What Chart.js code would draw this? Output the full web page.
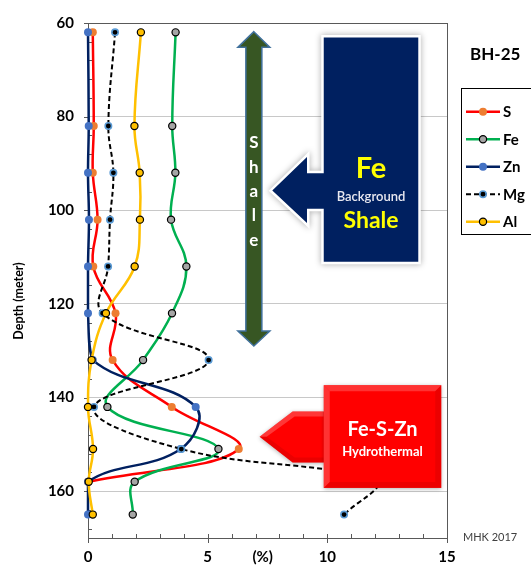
<!DOCTYPE html>
<html><head><meta charset="utf-8">
<script src="https://cdn.jsdelivr.net/npm/chart.js@4.4.0/dist/chart.umd.min.js"></script>
<style>html,body{margin:0;padding:0;background:#fff;overflow:hidden}#wrap{width:531px;height:565px}</style>
</head><body><div id="wrap"><canvas id="c" width="531" height="565"></canvas></div>
<script>
// ---- data (depth in metres, values in %) ----
const depths = [62, 82, 92, 102, 112, 122, 132, 142, 151, 158, 165];
const depthsS = [62, 82, 92, 102, 112, 122, 132, 142, 151, 158];
const sValues  = [0.20, 0.24, 0.20, 0.40, 0.22, 1.15, 1.03, 3.50, 6.30, 0.00];
const feValues = [3.66, 3.52, 3.65, 3.47, 4.11, 3.51, 2.30, 0.81, 5.45, 1.95, 1.87];
const znValues = [0.00, 0.03, 0.00, 0.04, 0.00, 0.00, 0.20, 4.50, 3.87, 0.00, 0.00];
const mgValues = [1.13, 0.85, 1.06, 0.92, 0.84, 0.61, 5.04, 0.25, 3.90, 12.0, 10.7];
const alValues = [2.21, 1.94, 2.16, 2.17, 1.95, 0.75, 0.15, 0.00, 0.21, 0.03, 0.20];
const seriesNames = ['S', 'Fe', 'Zn', 'Mg', 'Al'];
const xTicks = [0, 5, 10, 15];
const yTicks = [60, 80, 100, 120, 140, 160];
const boreholeName = 'BH-25';

const FONT = 'Lato';
Chart.defaults.font.family = FONT;

function pts(d, v) { return v.map((x, i) => ({ x: x, y: d[i] })); }

const styles = [
  { line: '#ff0000', fill: '#ed7d31', border: '#ed7d31', bw: 0, r: 4, w: 2.5, dash: [] },
  { line: '#00b050', fill: '#a5a5a5', border: '#000000', bw: 1.2, r: 3.6, w: 2.5, dash: [] },
  { line: '#002060', fill: '#4472c4', border: '#4472c4', bw: 0, r: 4, w: 2.5, dash: [] },
  { line: '#000000', fill: '#000000', border: '#5b9bd5', bw: 1.6, r: 3.2, w: 2, dash: [5, 3] },
  { line: '#ffc000', fill: '#ffc000', border: '#000000', bw: 1.2, r: 3.6, w: 2.5, dash: [] }
];
const seriesData = [pts(depthsS, sValues), pts(depths, feValues), pts(depths, znValues), pts(depths, mgValues), pts(depths, alValues)];

const datasets = seriesNames.map((n, i) => ({
  label: n,
  data: seriesData[i],
  borderColor: styles[i].line,
  borderWidth: styles[i].w,
  borderDash: styles[i].dash,
  pointBackgroundColor: styles[i].fill,
  pointBorderColor: styles[i].border,
  pointBorderWidth: styles[i].bw,
  pointRadius: styles[i].r,
  tension: 0.4,
  fill: false,
  clip: false,
  order: 4 - i
}));

const deco = {
  id: 'deco',
  beforeDatasetsDraw(chart) {
    const c = chart.ctx, a = chart.chartArea;
    const xs = chart.scales.x, ys = chart.scales.y;
    const X = v => xs.getPixelForValue(v), Y = v => ys.getPixelForValue(v);
    c.save();
    // frame
    c.strokeStyle = '#595959'; c.lineWidth = 1;
    c.strokeRect(Math.round(a.left) + 0.5, Math.round(a.top) + 0.5, Math.round(a.right - a.left), Math.round(a.bottom - a.top));
    // minor + major ticks
    c.beginPath();
    for (let v = 1; v < 15; v++) { if (v % 5 === 0) continue; const px = Math.round(X(v)) + 0.5; c.moveTo(px, a.bottom); c.lineTo(px, a.bottom - 4); }
    for (let d = 64; d < 170; d += 4) { if ((d - 60) % 20 === 0) continue; const py = Math.round(Y(d)) + 0.5; c.moveTo(a.left, py); c.lineTo(a.left + 4, py); }
    xTicks.forEach(v => { const px = Math.round(X(v)) + 0.5; c.moveTo(px, a.bottom - 4); c.lineTo(px, a.bottom + 5); });
    yTicks.forEach(d => { const py = Math.round(Y(d)) + 0.5; c.moveTo(a.left - 4, py); c.lineTo(a.left, py); });
    c.stroke();

    // green double arrow
    const cx = X(6.93), yT = Y(61.85), yHT = Y(65.2), yHB = Y(125.8), yB = Y(129.0), sw = 8, hw = 16;
    c.beginPath();
    c.moveTo(cx, yT); c.lineTo(cx + hw, yHT); c.lineTo(cx + sw, yHT); c.lineTo(cx + sw, yHB); c.lineTo(cx + hw, yHB);
    c.lineTo(cx, yB); c.lineTo(cx - hw, yHB); c.lineTo(cx - sw, yHB); c.lineTo(cx - sw, yHT); c.lineTo(cx - hw, yHT); c.closePath();
    c.fillStyle = '#375623'; c.fill();
    c.strokeStyle = '#41719c'; c.lineWidth = 1.5; c.stroke();
    c.fillStyle = '#ffffff'; c.font = 'bold 17px ' + FONT; c.textAlign = 'center'; c.textBaseline = 'middle';
    'Shale'.split('').forEach((ch, i) => c.fillText(ch, cx, Y(85.6 + i * 5.2)));

    // navy box with left arrow
    const bl = X(9.85), br = X(13.8), bt = Y(63.1), bb = Y(111.0);
    const st = Y(92.1), sb = Y(99.7), hb = X(9.15), ht = Y(88.6), hbt = Y(102.7), tx = X(7.7), ty = Y(95.8);
    c.beginPath();
    c.moveTo(bl, bt); c.lineTo(br, bt); c.lineTo(br, bb); c.lineTo(bl, bb); c.lineTo(bl, sb); c.lineTo(hb, sb);
    c.lineTo(hb, hbt); c.lineTo(tx, ty); c.lineTo(hb, ht); c.lineTo(hb, st); c.lineTo(bl, st); c.closePath();
    c.save();
    c.shadowColor = 'rgba(0,0,0,0.35)'; c.shadowBlur = 6;
    c.strokeStyle = '#ffffff'; c.lineWidth = 5; c.lineJoin = 'miter'; c.stroke();
    c.restore();
    c.fillStyle = '#002060'; c.fill();
    const ncx = (bl + br) / 2;
    c.fillStyle = '#ffff00'; c.font = 'bold 29px ' + FONT; c.fillText('Fe', ncx, Y(91.1));
    c.fillStyle = '#e8e8f0'; c.font = '600 13px ' + FONT; c.fillText('Background', ncx, Y(97.1));
    c.fillStyle = '#ffff00'; c.font = 'bold 23px ' + FONT; c.fillText('Shale', ncx, Y(102.2));
    c.restore();
  },
  afterDatasetsDraw(chart) {
    const c = chart.ctx;
    const xs = chart.scales.x, ys = chart.scales.y;
    const X = v => xs.getPixelForValue(v), Y = v => ys.getPixelForValue(v);
    c.save();
    // red arrow
    const tx = X(7.17), ty = Y(148.4), hb = X(8.55), ht = Y(143.0), hbb = Y(153.9), bl = X(9.85);
    c.save(); c.shadowColor = 'rgba(0,0,0,0.3)'; c.shadowBlur = 4; c.shadowOffsetY = 1;
    c.beginPath(); c.moveTo(tx, ty); c.lineTo(hb, ht); c.lineTo(bl + 2, ht); c.lineTo(bl + 2, hbb); c.lineTo(hb, hbb); c.closePath();
    c.fillStyle = '#ff0000'; c.fill(); c.restore();
    c.fillStyle = 'rgba(255,120,120,0.45)';
    c.beginPath(); c.moveTo(tx, ty); c.lineTo(hb, ht); c.lineTo(bl, ht); c.lineTo(bl, ht + 5); c.lineTo(hb + 2, ht + 5); c.lineTo(tx + 7, ty); c.closePath(); c.fill();
    c.fillStyle = 'rgba(190,0,0,0.3)';
    c.beginPath(); c.moveTo(tx, ty); c.lineTo(hb, hbb); c.lineTo(bl, hbb); c.lineTo(bl, hbb - 5); c.lineTo(hb + 2, hbb - 5); c.lineTo(tx + 7, ty); c.closePath(); c.fill();
    // red box
    const rl = X(9.85), rr = X(14.76), rt = Y(137.35), rb = Y(159.3);
    c.save(); c.shadowColor = 'rgba(0,0,0,0.3)'; c.shadowBlur = 4; c.shadowOffsetY = 1;
    c.fillStyle = '#ff0000'; c.fillRect(rl, rt, rr - rl, rb - rt); c.restore();
    const bv = 6;
    c.fillStyle = 'rgba(255,110,110,0.45)';
    c.beginPath(); c.moveTo(rl, rt); c.lineTo(rr, rt); c.lineTo(rr - bv, rt + bv); c.lineTo(rl + bv, rt + bv); c.closePath(); c.fill();
    c.beginPath(); c.moveTo(rl, rt); c.lineTo(rl + bv, rt + bv); c.lineTo(rl + bv, rb - bv); c.lineTo(rl, rb); c.closePath(); c.fill();
    c.fillStyle = 'rgba(200,0,0,0.35)';
    c.beginPath(); c.moveTo(rl, rb); c.lineTo(rr, rb); c.lineTo(rr - bv, rb - bv); c.lineTo(rl + bv, rb - bv); c.closePath(); c.fill();
    c.beginPath(); c.moveTo(rr, rt); c.lineTo(rr, rb); c.lineTo(rr - bv, rb - bv); c.lineTo(rr - bv, rt + bv); c.closePath(); c.fill();
    const rcx = (rl + rr) / 2;
    c.fillStyle = '#ffffff'; c.textAlign = 'center'; c.textBaseline = 'middle';
    c.font = 'bold 20px ' + FONT; c.fillText('Fe-S-Zn', rcx, Y(146.9));
    c.font = 'bold 13px ' + FONT; c.fillText('Hydrothermal', rcx, Y(151.5));
    c.restore();
  },
  afterDraw(chart) {
    const c = chart.ctx;
    const xs = chart.scales.x;
    c.save();
    c.fillStyle = '#000'; c.font = 'bold 17px ' + FONT; c.textAlign = 'left'; c.textBaseline = 'middle';
    c.fillText(boreholeName, 470, 55);
    c.strokeStyle = '#000'; c.lineWidth = 1; c.strokeRect(461.5, 88.5, 72, 146);
    seriesNames.forEach((n, i) => {
      const y = 111.7 + i * 27.5, s = styles[i];
      c.beginPath(); c.setLineDash(s.dash); c.strokeStyle = s.line; c.lineWidth = s.w;
      c.moveTo(466, y); c.lineTo(500, y); c.stroke(); c.setLineDash([]);
      c.beginPath(); c.arc(483, y, s.r, 0, Math.PI * 2); c.fillStyle = s.fill; c.fill();
      if (s.bw) { c.lineWidth = s.bw; c.strokeStyle = s.border; c.stroke(); }
      c.fillStyle = '#000'; c.font = 'bold 15px ' + FONT; c.textAlign = 'left'; c.textBaseline = 'middle';
      c.fillText(n, 503, y + 0.5);
    });
    c.save(); c.translate(19, 301); c.rotate(-Math.PI / 2);
    c.font = 'bold 12.5px ' + FONT; c.textAlign = 'center'; c.textBaseline = 'middle'; c.fillStyle = '#000';
    c.fillText('Depth (meter)', 0, 0); c.restore();
    c.font = 'bold 15px ' + FONT; c.textAlign = 'center'; c.textBaseline = 'middle'; c.fillStyle = '#000';
    c.fillText('(%)', xs.getPixelForValue(7.3), 557.5);
    c.font = '11px ' + FONT; c.fillStyle = '#404040'; c.textAlign = 'left';
    c.fillText('MHK 2017', 463, 537);
    c.restore();
  }
};

new Chart(document.getElementById('c'), {
  type: 'line',
  data: { datasets: datasets },
  options: {
    responsive: false, animation: false, devicePixelRatio: 1,
    indexAxis: 'y',
    layout: { padding: { top: 21, right: 84, left: 0, bottom: 0 } },
    plugins: { legend: { display: false }, tooltip: { enabled: false } },
    elements: { line: { capBezierPoints: true } },
    scales: {
      x: {
        type: 'linear', position: 'bottom', min: 0, max: 15,
        afterBuildTicks: s => { s.ticks = xTicks.map(v => ({ value: v })); },
        ticks: { font: { size: 15, weight: 'bold' }, color: '#000', padding: 10, maxRotation: 0 },
        grid: { drawOnChartArea: false, drawTicks: false },
        border: { display: false },
        afterFit: s => { s.height = 27; }
      },
      y: {
        type: 'linear', position: 'left', reverse: true, min: 60, max: 170,
        afterBuildTicks: s => { s.ticks = yTicks.map(v => ({ value: v })); },
        ticks: { font: { size: 15, weight: 'bold' }, color: '#000', padding: 14 },
        grid: { color: c => (c.tick && c.tick.value === 60) ? 'rgba(0,0,0,0)' : '#c8c8c8', drawTicks: false },
        border: { display: false },
        afterFit: s => { s.width = 88; }
      }
    }
  },
  plugins: [deco]
});
</script></body></html>
